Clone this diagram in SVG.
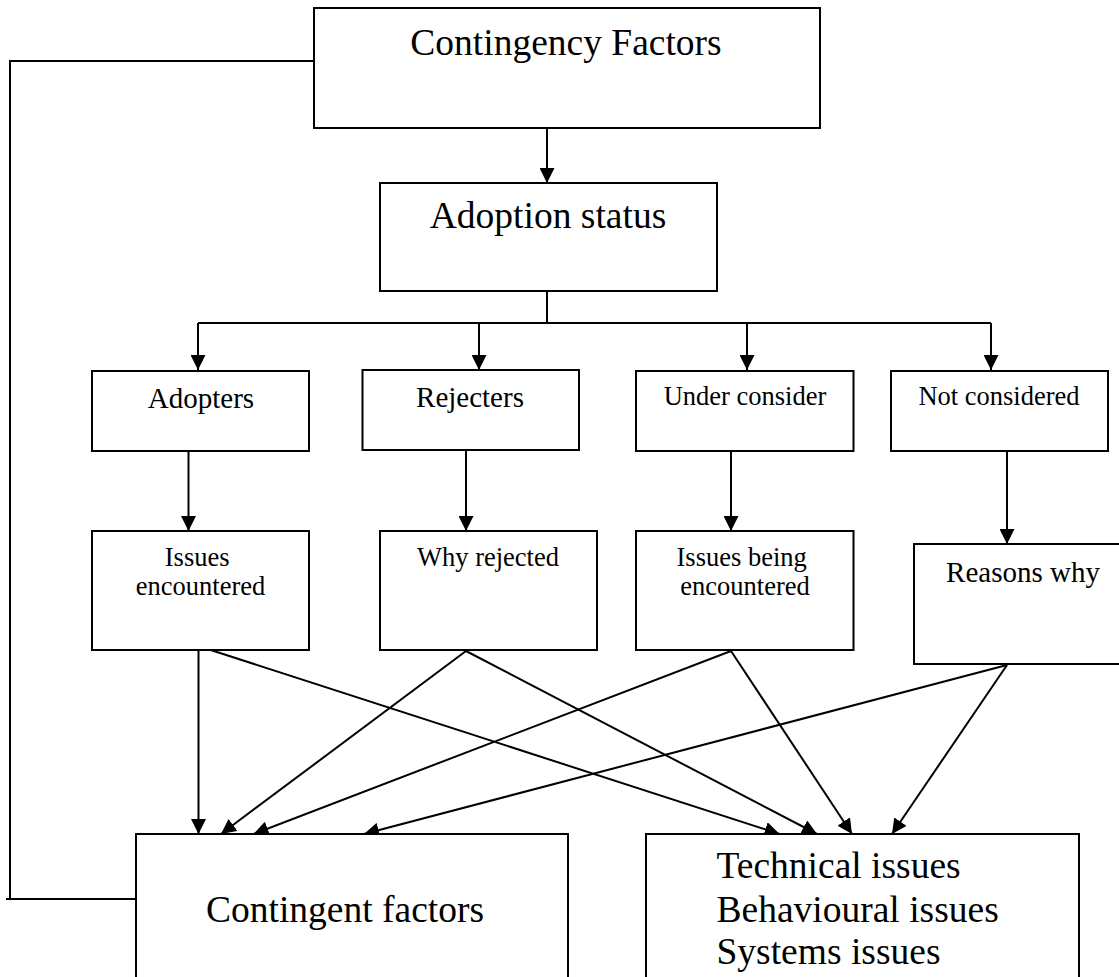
<svg xmlns="http://www.w3.org/2000/svg" width="1119" height="977" viewBox="0 0 1119 977">
  <style>
    .box { fill: #fff; stroke: #000; stroke-width: 2; }
    .ln { fill: none; stroke: #000; stroke-width: 2; }
    .arr { fill: none; stroke: #000; stroke-width: 2; marker-end: url(#head); }
    text { font-family: "Liberation Serif", "Times New Roman", serif; fill: #000; }
    .big { font-size: 37.5px; }
    .mid { font-size: 29px; }
    .sm { font-size: 26.5px; }
  </style>
  <defs>
    <marker id="head" viewBox="0 0 15 15" refX="15" refY="7.5" markerWidth="15" markerHeight="15" markerUnits="userSpaceOnUse" orient="auto">
      <path d="M0,0 L15,7.5 L0,15 z" fill="#000"/>
    </marker>
  </defs>
  <rect width="1119" height="977" fill="#fff"/>

  <g id="connectors">
    <!-- feedback loop from the factors box down to the contingent factors box -->
    <path class="ln" d="M314,61 H10 V899"/>
    <path class="ln" d="M6,899 H136"/>
    <!-- top chain -->
    <path class="arr" d="M547,128 V183"/>
    <path class="ln" d="M547,291 V323"/>
    <path class="ln" d="M198,323 H991"/>
    <path class="arr" d="M198,323 V370"/>
    <path class="arr" d="M479,323 V370"/>
    <path class="arr" d="M747,323 V370"/>
    <path class="arr" d="M991,323 V370"/>
    <!-- status to follow-up -->
    <path class="arr" d="M188.5,451 V531"/>
    <path class="arr" d="M466,450 V531"/>
    <path class="arr" d="M731,451 V531"/>
    <path class="arr" d="M1007,451 V544"/>
    <!-- follow-up to outcomes -->
    <path class="arr" d="M198.5,650 V834"/>
    <path class="arr" d="M210.7,650 L779.6,834"/>
    <path class="arr" d="M466,651 L221,834"/>
    <path class="arr" d="M466,651 L817,834"/>
    <path class="arr" d="M731,651 L253.6,834"/>
    <path class="arr" d="M731,651 L852,834"/>
    <path class="arr" d="M1007,665 L364,834"/>
    <path class="arr" d="M1007,665 L892,834"/>
  </g>

  <g id="contingency-factors">
    <rect class="box" x="314" y="8" width="506" height="120"/>
    <text class="big" x="566" y="55" text-anchor="middle">Contingency Factors</text>
  </g>
  <g id="adoption-status">
    <rect class="box" x="380" y="183" width="337" height="108"/>
    <text class="big" x="548" y="228" text-anchor="middle">Adoption status</text>
  </g>

  <g id="adopters">
    <rect class="box" x="92" y="371" width="217" height="80"/>
    <text class="mid" x="201" y="407.5" text-anchor="middle">Adopters</text>
  </g>
  <g id="rejecters">
    <rect class="box" x="362.5" y="370" width="216.5" height="80"/>
    <text class="mid" x="470" y="406.5" text-anchor="middle">Rejecters</text>
  </g>
  <g id="under-consider">
    <rect class="box" x="636" y="371" width="217.5" height="80"/>
    <text class="sm" x="745" y="405" text-anchor="middle">Under consider</text>
  </g>
  <g id="not-considered">
    <rect class="box" x="891" y="371" width="217" height="80"/>
    <text class="sm" x="999" y="405" text-anchor="middle">Not considered</text>
  </g>

  <g id="issues-encountered">
    <rect class="box" x="92" y="531" width="217" height="119"/>
    <text class="sm" text-anchor="middle">
      <tspan x="200.5" y="566">Issues</tspan>
      <tspan x="200.5" y="595">encountered</tspan>
    </text>
  </g>
  <g id="why-rejected">
    <rect class="box" x="380" y="531" width="217" height="119"/>
    <text class="sm" x="488" y="565.5" text-anchor="middle">Why rejected</text>
  </g>
  <g id="issues-being-encountered">
    <rect class="box" x="636" y="531" width="217.5" height="119"/>
    <text class="sm" text-anchor="middle">
      <tspan x="745" y="566">Issues being</tspan>
      <tspan x="745" y="595">encountered</tspan>
    </text>
  </g>
  <g id="reasons-why">
    <rect class="box" x="914" y="544" width="218" height="120"/>
    <text class="mid" x="1023" y="581.5" text-anchor="middle">Reasons why</text>
  </g>

  <g id="contingent-factors">
    <rect class="box" x="136" y="834" width="432" height="160"/>
    <text class="big" x="206" y="921.5">Contingent factors</text>
  </g>
  <g id="issue-types">
    <rect class="box" x="646" y="834" width="433" height="160"/>
    <text class="big">
      <tspan x="716.5" y="878">Technical issues</tspan>
      <tspan x="716.5" y="921.5">Behavioural issues</tspan>
      <tspan x="716.5" y="963.5">Systems issues</tspan>
    </text>
  </g>
</svg>
